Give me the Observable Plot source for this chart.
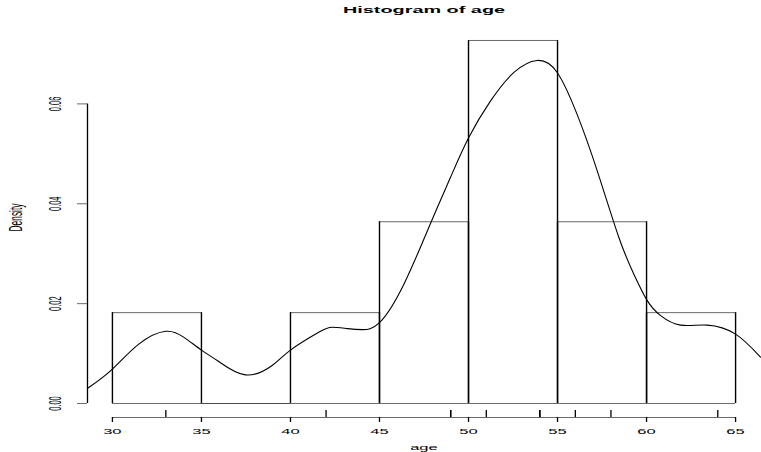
<!DOCTYPE html>
<html>
<head>
<meta charset="utf-8">
<script src="https://cdn.jsdelivr.net/npm/d3@7"></script>
<script src="https://cdn.jsdelivr.net/npm/@observablehq/plot@0.6"></script>
<style>
  html, body { margin: 0; padding: 0; background: white; }
</style>
</head>
<body>
<div id="chart"></div>
<script>
// Histogram bins (density scale)
const binLower = [30, 35, 40, 45, 50, 55, 60];
const binUpper = [35, 40, 45, 50, 55, 60, 65];
const binDensity = [0.0182, 0, 0.0182, 0.0364, 0.0727, 0.0364, 0.0182];

// Kernel density curve
const curveAge = [28.63, 30.0, 31.48, 32.98, 34.0, 35.0, 35.97, 37.47, 38.97, 40.0, 41.59, 42.34, 43.2, 44.03, 45.0, 46.37, 47.87, 48.99, 50.02, 51.24, 52.55, 53.86, 54.98, 56.1, 57.23, 58.44, 59.3, 60.04, 60.79, 61.91, 63.41, 65.0, 66.4];
const curveDensity = [0.0031, 0.0069, 0.0119, 0.01446, 0.0133, 0.0107, 0.0084, 0.00573, 0.0076, 0.0107, 0.01427, 0.01527, 0.0150, 0.0148, 0.0162, 0.0239, 0.0361, 0.0453, 0.0533, 0.0606, 0.0663, 0.0687, 0.0663, 0.0579, 0.0466, 0.0333, 0.0258, 0.0206, 0.0176, 0.0157, 0.0157, 0.0139, 0.0093];

// Rug (observed ages)
const rugAges = [33, 42, 49, 49, 51, 54, 54, 54, 56, 58, 64];

// Axis ticks
const xTicks = [30, 35, 40, 45, 50, 55, 60, 65];
const yTicks = [0, 0.02, 0.04, 0.06];
const yTickLabels = ["0.00", "0.02", "0.04", "0.06"];

const titleText = "Histogram of age";
const xLabel = "age";
const yLabel = "Density";

const bins = binLower.map((lo, i) => ({lo, hi: binUpper[i], d: binDensity[i]}));
const curve = curveAge.map((a, i) => ({a, d: curveDensity[i]}));
const yTickData = yTicks.map((v, i) => ({v, label: yTickLabels[i]}));

const xDomain = [28.6, 66.4];
const yDomain = [-0.0028, 0.0757];
const pxPerX = (761 - 87 - 1) / (xDomain[1] - xDomain[0]);
const pxPerY = (452 - 25 - 35) / (yDomain[1] - yDomain[0]);

const chart = Plot.plot({
  width: 761,
  height: 452,
  marginLeft: 87,
  marginRight: 1,
  marginTop: 25,
  marginBottom: 35,
  style: {fontFamily: "Liberation Sans, Arial, sans-serif", fontSize: "12px", background: "white", overflow: "visible"},
  x: {domain: xDomain, axis: null},
  y: {domain: yDomain, axis: null},
  marks: [
    // histogram bars
    Plot.ruleY([0], {x1: binLower[0], x2: binUpper[binUpper.length - 1], stroke: "#444", strokeWidth: 0.8}),
    Plot.ruleY(bins, {y: "d", x1: "lo", x2: "hi", stroke: "#444", strokeWidth: 0.8}),
    Plot.ruleX(bins, {x: "lo", y1: 0, y2: "d", stroke: "black", strokeWidth: 1.4}),
    Plot.ruleX(bins, {x: "hi", y1: 0, y2: "d", stroke: "black", strokeWidth: 1.4}),
    // density curve
    Plot.line(curve, {x: "a", y: "d", curve: "natural", stroke: "black", strokeWidth: 1.1}),
    // rug
    Plot.ruleX(rugAges, {x: d => d, y1: yDomain[0], y2: yDomain[0] + 7 / pxPerY, stroke: "black", strokeWidth: 1.3}),
    // x axis
    Plot.ruleY([yDomain[0]], {x1: xTicks[0], x2: xTicks[xTicks.length - 1], stroke: "#444", strokeWidth: 0.8}),
    Plot.ruleX(xTicks, {x: d => d, y1: yDomain[0], y2: yDomain[0] - 5 / pxPerY, stroke: "black", strokeWidth: 1.3}),
    Plot.text(xTicks, {x: d => d, y: yDomain[0], dy: 14, text: d => String(d), textAnchor: "middle", lineAnchor: "middle", fontSize: 12, fill: "black"}),
    // y axis
    Plot.ruleX([xDomain[0]], {y1: yTicks[0], y2: yTicks[yTicks.length - 1], stroke: "black", strokeWidth: 1.3}),
    Plot.ruleY(yTicks, {y: d => d, x1: xDomain[0] - 10 / pxPerX, x2: xDomain[0], stroke: "#444", strokeWidth: 0.8}),
    Plot.text(yTickData, {x: xDomain[0], y: "v", dx: -32, text: "label", rotate: -90, textAnchor: "middle", lineAnchor: "middle", fontSize: 12, fill: "black"}),
    // titles
    Plot.text([titleText], {frameAnchor: "top", dy: -15, text: d => d, fontWeight: "bold", fontSize: 14.4, textAnchor: "middle", lineAnchor: "middle", fill: "black"}),
    Plot.text([xLabel], {frameAnchor: "bottom", dy: 30, text: d => d, fontSize: 12, textAnchor: "middle", lineAnchor: "middle", fill: "black"}),
    Plot.text([yLabel], {frameAnchor: "left", dx: -71, dy: -4, text: d => d, rotate: -90, fontSize: 13.5, textAnchor: "middle", lineAnchor: "middle", fill: "black"})
  ]
});

document.getElementById("chart").appendChild(chart);

// emulate the stretched aspect of the original raster text (scale each text about its own centre)
const sx = 1.38, sy = 0.62;
chart.querySelectorAll("text").forEach(t => {
  const tr = t.getAttribute("transform") || "";
  if (/rotate/.test(tr)) {
    t.setAttribute("transform", tr.replace(/rotate/, `scale(${sx},${sy}) rotate`));
  } else {
    const b = t.getBBox();
    const cx = b.x + b.width / 2, cy = b.y + b.height / 2;
    t.setAttribute("transform", `${tr} translate(${cx},${cy}) scale(${sx},${sy}) translate(${-cx},${-cy})`.trim());
  }
});
</script>
</body>
</html>
